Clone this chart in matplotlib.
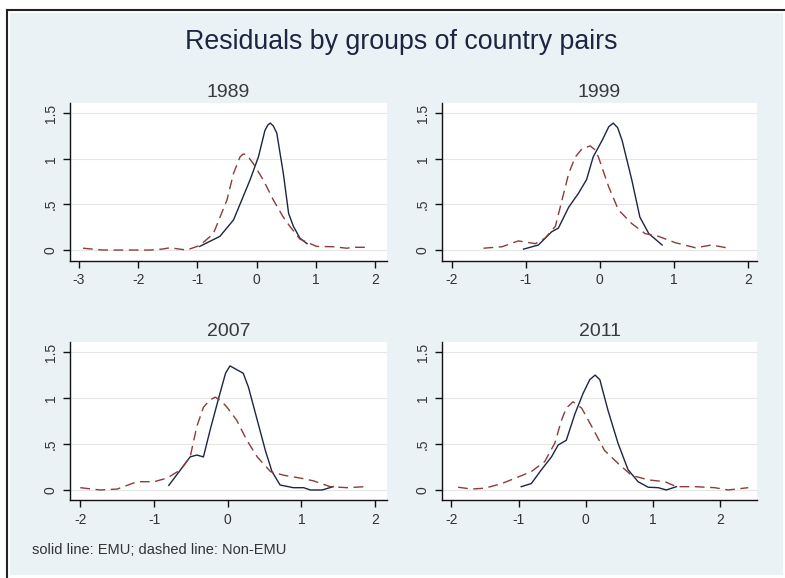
import matplotlib.pyplot as plt
from matplotlib.patches import Rectangle
from matplotlib.lines import Line2D

plt.rcParams['font.family'] = ['Liberation Sans', 'DejaVu Sans']

# make data: kernel density curves
years = ['1989', '1999', '2007', '2011']

emu_x_1989 = [-0.96, -0.62, -0.39, -0.11, 0.03, 0.14, 0.19, 0.23, 0.28, 0.34, 0.45, 0.54, 0.62, 0.73, 0.85]
emu_y_1989 = [0.04, 0.15, 0.33, 0.77, 1.02, 1.31, 1.37, 1.39, 1.36, 1.28, 0.84, 0.40, 0.26, 0.13, 0.07]
non_x_1989 = [-2.93, -2.6, -2.2, -1.8, -1.6, -1.46, -1.3, -1.18, -0.96, -0.73, -0.5, -0.39, -0.28,
              -0.23, -0.19, -0.13, -0.06, 0.11, 0.28, 0.45, 0.56, 0.73, 1.01, 1.3, 1.52, 1.63, 1.83]
non_y_1989 = [0.02, 0.0, 0.0, 0.0, 0.01, 0.025, 0.01, 0.0, 0.05, 0.18, 0.55, 0.84, 1.02,
              1.05, 1.05, 1.01, 0.95, 0.77, 0.55, 0.36, 0.26, 0.12, 0.04, 0.036, 0.02, 0.03, 0.03]

emu_x_1999 = [-1.03, -0.83, -0.65, -0.56, -0.42, -0.29, -0.18, -0.09, 0.03, 0.12, 0.18, 0.24, 0.3,
              0.43, 0.54, 0.66, 0.84]
emu_y_1999 = [0.01, 0.055, 0.2, 0.24, 0.47, 0.62, 0.77, 1.02, 1.2, 1.35, 1.39, 1.34, 1.2,
              0.77, 0.36, 0.18, 0.055]
non_x_1999 = [-1.57, -1.32, -1.1, -0.87, -0.74, -0.6, -0.51, -0.42, -0.33, -0.24, -0.13, -0.07, -0.02,
              0.12, 0.25, 0.43, 0.61, 0.79, 1.02, 1.29, 1.51, 1.74]
non_y_1999 = [0.02, 0.036, 0.1, 0.07, 0.13, 0.26, 0.55, 0.84, 1.02, 1.11, 1.14, 1.1, 1.02,
              0.69, 0.44, 0.29, 0.18, 0.15, 0.08, 0.025, 0.055, 0.02]

emu_x_2007 = [-0.8, -0.64, -0.51, -0.42, -0.33, -0.24, -0.12, -0.03, 0.03, 0.21, 0.28, 0.4,
              0.51, 0.6, 0.71, 0.89, 1.03, 1.12, 1.28, 1.43]
emu_y_2007 = [0.05, 0.22, 0.36, 0.38, 0.36, 0.65, 1.01, 1.27, 1.35, 1.27, 1.12, 0.76,
              0.43, 0.2, 0.054, 0.025, 0.025, 0.0, 0.0, 0.036]
non_x_2007 = [-2.0, -1.73, -1.5, -1.23, -1.0, -0.82, -0.64, -0.51, -0.42, -0.33, -0.24, -0.17, -0.09,
              -0.01, 0.12, 0.26, 0.4, 0.58, 0.76, 0.98, 1.16, 1.39, 1.62, 1.86]
non_y_2007 = [0.025, 0.0, 0.01, 0.09, 0.09, 0.13, 0.22, 0.36, 0.69, 0.9, 0.98, 1.01, 0.97,
              0.9, 0.76, 0.54, 0.36, 0.2, 0.16, 0.13, 0.1, 0.036, 0.025, 0.036]

emu_x_2011 = [-0.96, -0.81, -0.66, -0.51, -0.41, -0.29, -0.16, -0.04, 0.06, 0.14, 0.21, 0.33,
              0.48, 0.63, 0.78, 0.93, 1.08, 1.2, 1.35]
emu_y_2011 = [0.036, 0.07, 0.22, 0.36, 0.49, 0.54, 0.83, 1.05, 1.2, 1.25, 1.2, 0.87,
              0.51, 0.22, 0.09, 0.03, 0.025, 0.0, 0.036]
non_x_2011 = [-1.9, -1.7, -1.5, -1.25, -1.01, -0.81, -0.61, -0.46, -0.36, -0.29, -0.19, -0.06,
              0.09, 0.28, 0.48, 0.68, 0.93, 1.18, 1.35, 1.63, 1.92, 2.12, 2.42]
non_y_2011 = [0.03, 0.01, 0.02, 0.07, 0.14, 0.2, 0.31, 0.51, 0.76, 0.89, 0.96, 0.89,
              0.69, 0.43, 0.29, 0.16, 0.11, 0.09, 0.036, 0.036, 0.025, 0.0, 0.025]

x_ticks_1989 = [-3, -2, -1, 0, 1, 2]
x_ticks_other = [-2, -1, 0, 1, 2]
y_ticks = [0, 0.5, 1, 1.5]
y_tick_labels = ['0', '.5', '1', '1.5']

emu = [(emu_x_1989, emu_y_1989), (emu_x_1999, emu_y_1999),
       (emu_x_2007, emu_y_2007), (emu_x_2011, emu_y_2011)]
non = [(non_x_1989, non_y_1989), (non_x_1999, non_y_1999),
       (non_x_2007, non_y_2007), (non_x_2011, non_y_2011)]
xticks = [x_ticks_1989, x_ticks_other, x_ticks_other, x_ticks_other]
xlims = [(-3.15, 2.2), (-2.13, 2.12), (-2.14, 2.16), (-2.14, 2.55)]
ylims = [(-0.12, 1.61), (-0.12, 1.61), (-0.109, 1.61), (-0.109, 1.61)]

W, H = 785, 578
bg = '#eaf2f5'
navy = '#1c2640'
maroon = '#8c3b3b'

fig = plt.figure(figsize=(7.85, 5.78), dpi=100)
fig.patch.set_facecolor('white')

# outer frame and blue background
fig.add_artist(Rectangle((10 / W, 1 - 575 / H), 773 / W, 562 / H, transform=fig.transFigure,
                         facecolor=bg, edgecolor='none', zorder=0))
fig.add_artist(Line2D([7 / W, 1], [1 - 10 / H, 1 - 10 / H], transform=fig.transFigure,
                      color='#222222', lw=1.5))
fig.add_artist(Line2D([7 / W, 7 / W], [1 - 10 / H, 0], transform=fig.transFigure,
                      color='#222222', lw=1.5))

boxes = [(70, 387, 103, 261), (442, 757, 103, 261),
         (70, 387, 342, 500), (442, 757, 342, 500)]

for i, (l, r, t, b) in enumerate(boxes):
    ax = fig.add_axes([l / W, 1 - b / H, (r - l) / W, (b - t) / H])
    ax.set_facecolor('white')
    ax.plot(emu[i][0], emu[i][1], color=navy, lw=1.0, zorder=3)
    ax.plot(non[i][0], non[i][1], color=maroon, lw=1.0, dashes=(7, 4), zorder=3)
    ax.set_xlim(xlims[i])
    ax.set_ylim(ylims[i])
    ax.set_xticks(xticks[i])
    ax.set_xticklabels([str(v) for v in xticks[i]])
    ax.set_yticks(y_ticks)
    ax.set_yticklabels(y_tick_labels, rotation=90, va='center')
    for v in y_ticks:
        ax.axhline(v, color='#e6e6e6', lw=0.8, zorder=1)
    for s in ['top', 'right']:
        ax.spines[s].set_visible(False)
    for s in ['left', 'bottom']:
        ax.spines[s].set_color('#111111')
        ax.spines[s].set_linewidth(1.0)
    ax.tick_params(direction='out', length=5, width=1, colors='#111111',
                   labelsize=10, labelcolor='#333333', pad=4)
    ax.set_title(years[i], fontsize=14, color='#3a3a3a', pad=4)

fig.text(401 / W, 1 - 42 / H, 'Residuals by groups of country pairs', ha='center', va='center',
         fontsize=19.3, color='#1c2640')
fig.text(32 / W, 1 - 550 / H, 'solid line: EMU; dashed line: Non-EMU', ha='left', va='center',
         fontsize=10.5, color='#333333')

fig.savefig('out.png', dpi=100, facecolor=fig.get_facecolor())
